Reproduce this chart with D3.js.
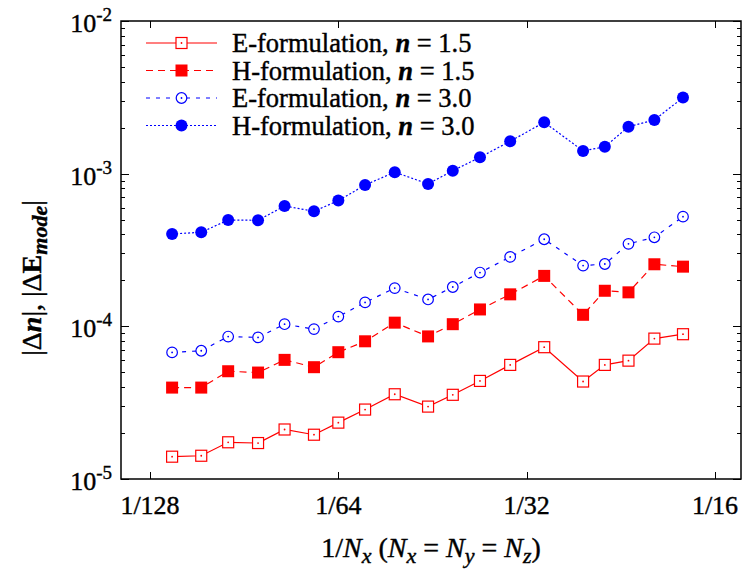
<!DOCTYPE html>
<html>
<head>
<meta charset="utf-8">
<script src="https://cdn.jsdelivr.net/npm/d3@7"></script>
<style>
  body { margin: 0; background: #fff; }
  svg { font-family: "Liberation Serif", "Times New Roman", serif; }
  text { stroke: #000; stroke-width: 0.4px; }
</style>
</head>
<body>
<svg width="742" height="569"></svg>
<script>
// grid sizes (N_x), x value is 1/N
var gridN = [118, 106, 96, 86, 78, 70, 64, 58, 52, 46, 42, 38, 34, 30, 26, 24, 22, 20, 18];

var eForm15 = [1.40e-5, 1.42e-5, 1.74e-5, 1.72e-5, 2.11e-5, 1.95e-5, 2.34e-5, 2.85e-5, 3.59e-5, 2.98e-5,
               3.56e-5, 4.39e-5, 5.59e-5, 7.30e-5, 4.35e-5, 5.59e-5, 5.96e-5, 8.31e-5, 8.88e-5];
var hForm15 = [3.97e-5, 3.97e-5, 5.08e-5, 4.98e-5, 6.03e-5, 5.40e-5, 6.77e-5, 7.98e-5, 1.057e-4, 8.59e-5,
               1.033e-4, 1.29e-4, 1.62e-4, 2.14e-4, 1.19e-4, 1.71e-4, 1.67e-4, 2.55e-4, 2.46e-4];
var eForm30 = [6.75e-5, 6.92e-5, 8.57e-5, 8.46e-5, 1.033e-4, 9.59e-5, 1.158e-4, 1.435e-4, 1.78e-4, 1.50e-4,
               1.81e-4, 2.25e-4, 2.85e-4, 3.72e-4, 2.50e-4, 2.56e-4, 3.47e-4, 3.83e-4, 5.23e-4];
var hForm30 = [4.03e-4, 4.13e-4, 4.97e-4, 4.95e-4, 6.14e-4, 5.67e-4, 6.66e-4, 8.43e-4, 1.023e-3, 8.57e-4,
               1.045e-3, 1.28e-3, 1.63e-3, 2.17e-3, 1.41e-3, 1.50e-3, 2.03e-3, 2.25e-3, 3.15e-3];

var xTickVals = [1/128, 1/64, 1/32, 1/16];
var xTickLabels = ["1/128", "1/64", "1/32", "1/16"];
var yTickExps = [-5, -4, -3, -2];

var series = [
  {name: "E-formulation, ", nval: "1.5", data: eForm15, color: "#ff0000", dash: null,  marker: "square", fill: false},
  {name: "H-formulation, ", nval: "1.5", data: hForm15, color: "#ff0000", dash: "7,5", marker: "square", fill: true},
  {name: "E-formulation, ", nval: "3.0", data: eForm30, color: "#0000ff", dash: "4,6", marker: "circle", fill: false},
  {name: "H-formulation, ", nval: "3.0", data: hForm30, color: "#0000ff", dash: "2,2", marker: "circle", fill: true}
];

var fs = 26, fsSub = 19;

var svg = d3.select("svg");
var frame = {left: 121, right: 741, top: 21, bottom: 479};

var x = d3.scaleLog().domain([1/128, 1/16]).range([150, 715]);
var y = d3.scaleLog().domain([1e-5, 1e-2]).range([frame.bottom, frame.top]);

// frame
svg.append("rect")
    .attr("x", frame.left).attr("y", frame.top)
    .attr("width", frame.right - frame.left)
    .attr("height", frame.bottom - frame.top)
    .attr("fill", "none").attr("stroke", "#000").attr("stroke-width", 1.5);

// y ticks (major + minor), both sides, inward
var yTicks = y.ticks();
var tickG = svg.append("g").attr("stroke", "#000").attr("stroke-width", 1);
yTicks.forEach(function(v) {
  var e = Math.log10(v);
  var major = Math.abs(e - Math.round(e)) < 1e-9;
  var len = major ? 8 : 4;
  var yy = Math.round(y(v)) + 0.5;
  tickG.append("line").attr("x1", frame.left).attr("x2", frame.left + len).attr("y1", yy).attr("y2", yy);
  tickG.append("line").attr("x1", frame.right).attr("x2", frame.right - len).attr("y1", yy).attr("y2", yy);
});

// x ticks
xTickVals.forEach(function(v) {
  var xx = Math.round(x(v)) + 0.5;
  tickG.append("line").attr("x1", xx).attr("x2", xx).attr("y1", frame.bottom).attr("y2", frame.bottom - 7);
  tickG.append("line").attr("x1", xx).attr("x2", xx).attr("y1", frame.top).attr("y2", frame.top + 7);
});

// x tick labels
svg.append("g").selectAll("text")
  .data(xTickVals)
  .enter().append("text")
    .attr("x", function(d) { return x(d); })
    .attr("y", 514)
    .attr("text-anchor", "middle")
    .attr("font-size", fs)
    .text(function(d, i) { return xTickLabels[i]; });

// y tick labels 10^e
yTickExps.forEach(function(e) {
  var t = svg.append("text")
      .attr("x", 112)
      .attr("y", y(Math.pow(10, e)) + 11)
      .attr("text-anchor", "end")
      .attr("font-size", fs);
  t.append("tspan").text("10");
  t.append("tspan").attr("dy", -11).attr("font-size", fsSub).text(String(e));
});

// axis titles
var tfs = 28, tfsSub = 22;
var xt = svg.append("text")
    .attr("x", (frame.left + frame.right) / 2)
    .attr("y", 557)
    .attr("text-anchor", "middle")
    .attr("font-size", tfs);
function sub(t, s) {
  t.append("tspan").attr("font-style", "italic").attr("font-size", tfsSub).attr("dy", 6).text(s);
}
xt.append("tspan").text("1/");
xt.append("tspan").attr("font-style", "italic").text("N");
sub(xt, "x");
xt.append("tspan").attr("dy", -6).text(" (");
xt.append("tspan").attr("font-style", "italic").text("N");
sub(xt, "x");
xt.append("tspan").attr("dy", -6).text(" = ");
xt.append("tspan").attr("font-style", "italic").text("N");
sub(xt, "y");
xt.append("tspan").attr("dy", -6).text(" = ");
xt.append("tspan").attr("font-style", "italic").text("N");
sub(xt, "z");
xt.append("tspan").attr("dy", -6).text(")");

var yt = svg.append("text")
    .attr("transform", "translate(41,278) rotate(-90)")
    .attr("text-anchor", "middle")
    .attr("font-size", tfs);
yt.append("tspan").text("|\u0394");
yt.append("tspan").attr("font-style", "italic").attr("font-weight", "bold").text("n");
yt.append("tspan").text("|, |\u0394");
yt.append("tspan").attr("font-weight", "bold").text("E");
yt.append("tspan").attr("font-style", "italic").attr("font-weight", "bold").attr("font-size", tfsSub).attr("dy", 6).text("mode");
yt.append("tspan").attr("dy", -6).text("|");

// markers
function drawMarker(g, s, cx, cy) {
  if (s.marker === "square") {
    var side = s.fill ? 12 : 11;
    g.append("rect")
      .attr("x", cx - side / 2).attr("y", cy - side / 2)
      .attr("width", side).attr("height", side)
      .attr("fill", s.fill ? s.color : "#fff")
      .attr("stroke", s.color).attr("stroke-width", s.fill ? 0 : 1.2);
  } else {
    g.append("circle")
      .attr("cx", cx).attr("cy", cy)
      .attr("r", s.fill ? 6 : 5.3)
      .attr("fill", s.fill ? s.color : "#fff")
      .attr("stroke", s.color).attr("stroke-width", s.fill ? 0 : 1.2);
  }
  if (!s.fill) {
    g.append("circle").attr("cx", cx).attr("cy", cy).attr("r", 0.9).attr("fill", s.color);
  }
}

var line = d3.line()
    .x(function(d) { return x(1 / d.n); })
    .y(function(d) { return y(d.v); });

series.forEach(function(s) {
  var pts = gridN.map(function(n, i) { return {n: n, v: s.data[i]}; });
  var g = svg.append("g");
  g.append("path")
    .attr("d", line(pts))
    .attr("fill", "none")
    .attr("stroke", s.color)
    .attr("stroke-width", 1.2)
    .attr("stroke-dasharray", s.dash);
  pts.forEach(function(p) { drawMarker(g, s, x(1 / p.n), y(p.v)); });
});

// legend
var legRowY = [43, 70.5, 98, 125.5];
series.forEach(function(s, i) {
  var g = svg.append("g");
  var ly = legRowY[i];
  g.append("line")
    .attr("x1", 146).attr("x2", 217).attr("y1", ly).attr("y2", ly)
    .attr("stroke", s.color).attr("stroke-width", 1.2)
    .attr("stroke-dasharray", s.dash);
  drawMarker(g, s, 181.5, ly);
  var t = g.append("text")
    .attr("x", 232).attr("y", ly + 9)
    .attr("font-size", 26.5);
  t.append("tspan").text(s.name);
  t.append("tspan").attr("font-style", "italic").attr("font-weight", "bold").text("n");
  t.append("tspan").text(" = " + s.nval);
});
</script>
</body>
</html>
